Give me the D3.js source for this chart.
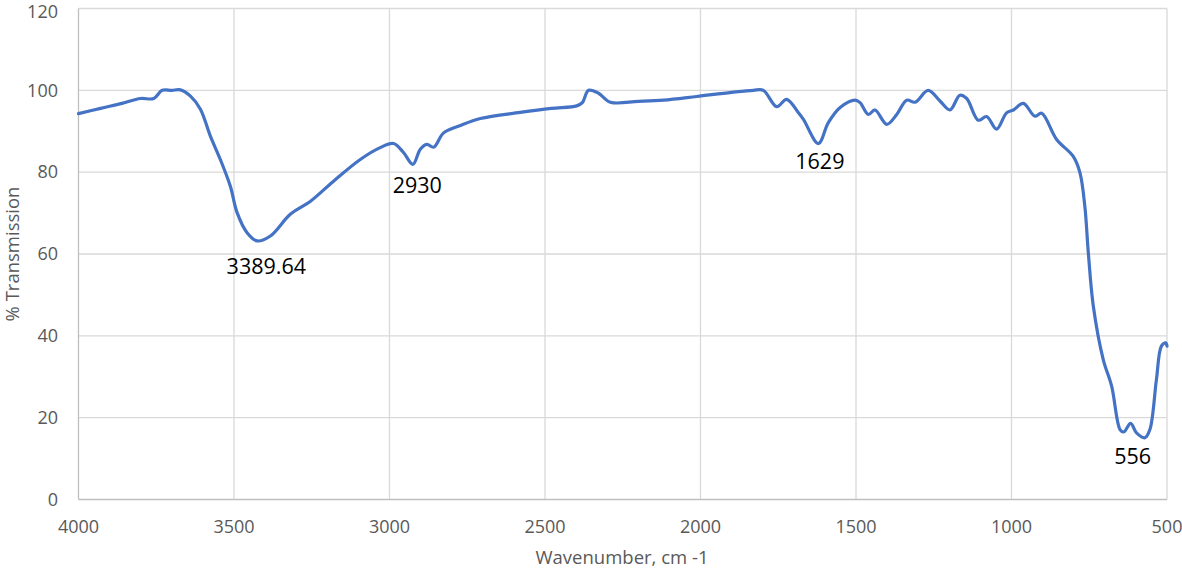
<!DOCTYPE html>
<meta charset="utf-8">
<script src="https://cdn.jsdelivr.net/npm/d3@7"></script>
<style>
  body { margin: 0; background: #fff; }
  text { font-family: "Open Sans", "Noto Sans", sans-serif; }
</style>
<div id="chart"></div>
<script>

// spectrum
var wavenumber = [4000, 3929, 3860, 3801, 3758, 3731, 3700, 3672, 3640, 3608, 3576, 3544, 3512, 3490, 3458, 3426, 3383, 3319, 3254, 3180, 3094, 3030, 2987, 2955, 2925, 2901, 2880, 2858, 2826, 2772, 2708, 2580, 2480, 2398, 2380, 2360, 2328, 2290, 2200, 2119, 2012, 1900, 1830, 1798, 1755, 1723, 1685, 1669, 1621, 1589, 1551, 1503, 1487, 1460, 1439, 1401, 1369, 1337, 1310, 1268, 1230, 1198, 1166, 1144, 1107, 1080, 1048, 1016, 994, 962, 925, 903, 855, 802, 780, 764, 753, 737, 705, 678, 651, 639, 617, 598, 571, 555, 534, 518, 504, 500];
var transmission = [94.3, 95.6, 96.8, 98.0, 98.0, 100.0, 100.0, 100.1, 98.6, 95.4, 88.8, 83.1, 76.6, 70.1, 65.2, 63.2, 64.4, 69.7, 72.9, 77.8, 83.1, 86.0, 87.0, 84.8, 81.9, 85.6, 86.8, 86.1, 89.6, 91.4, 93.1, 94.6, 95.6, 96.2, 97.0, 100.0, 99.3, 97.1, 97.3, 97.6, 98.5, 99.5, 100.0, 100.0, 96.0, 97.8, 94.5, 92.9, 87.0, 92.1, 95.8, 97.6, 97.0, 94.1, 95.2, 91.7, 94.1, 97.6, 97.1, 100.0, 97.4, 95.2, 98.8, 98.0, 92.7, 93.6, 90.5, 94.5, 95.2, 96.8, 93.7, 94.4, 88.0, 83.9, 79.9, 71.5, 60.3, 47.3, 34.2, 27.7, 17.1, 16.5, 18.6, 16.3, 15.1, 17.1, 29.3, 37.5, 38.3, 37.5];

var peakLabels = ["3389.64", "2930", "1629", "556"];
var peakX = [3389.64, 2930, 1629, 556];
var peakY = [63.2, 81.9, 87.0, 15.1];

var xTicks = [4000, 3500, 3000, 2500, 2000, 1500, 1000, 500];
var yTicks = [0, 20, 40, 60, 80, 100, 120];

var W = 1182, H = 571;
var margin = {top: 8, right: 15, bottom: 72, left: 78.5};

var svg = d3.select("#chart").append("svg")
  .attr("width", W).attr("height", H);

var x = d3.scaleLinear().domain([4000, 500]).range([margin.left, W - margin.right]);
var y = d3.scaleLinear().domain([0, 120]).range([H - margin.bottom + 0.5, margin.top + 0.5]);

// gridlines
svg.append("g").selectAll("line").data(yTicks.slice(1)).join("line")
  .attr("x1", margin.left).attr("x2", W - margin.right)
  .attr("y1", d => y(d)).attr("y2", d => y(d))
  .attr("stroke", "#d9d9d9").attr("stroke-width", 1.3);
svg.append("g").selectAll("line").data(xTicks.slice(1)).join("line")
  .attr("x1", d => x(d)).attr("x2", d => x(d))
  .attr("y1", y(0)).attr("y2", y(120))
  .attr("stroke", "#d9d9d9").attr("stroke-width", 1.3);

// axes lines
svg.append("line").attr("x1", x(4000)).attr("x2", x(4000)).attr("y1", y(0)).attr("y2", y(120))
  .attr("stroke", "#bfbfbf").attr("stroke-width", 1.3);
svg.append("line").attr("x1", x(4000)).attr("x2", x(500)).attr("y1", y(0)).attr("y2", y(0))
  .attr("stroke", "#bfbfbf").attr("stroke-width", 1.3);

// tick labels
svg.append("g").selectAll("text").data(yTicks).join("text")
  .attr("x", 58).attr("y", d => Math.max(y(d), 12)).attr("dy", "0.35em")
  .attr("text-anchor", "end").attr("font-size", 18).attr("fill", "#595959")
  .text(d => d);
svg.append("g").selectAll("text").data(xTicks).join("text")
  .attr("x", d => x(d)).attr("y", y(0) + 27).attr("dy", "0.35em")
  .attr("text-anchor", "middle").attr("font-size", 18).attr("fill", "#595959")
  .text(d => d);

// axis titles
svg.append("text").attr("x", 622).attr("y", 558).attr("dy", "0.35em")
  .attr("text-anchor", "middle").attr("font-size", 18.5).attr("fill", "#595959")
  .text("Wavenumber, cm -1");
svg.append("text").attr("transform", "translate(13," + y(60) + ") rotate(-90)")
  .attr("dy", "0.35em").attr("text-anchor", "middle").attr("font-size", 18.5).attr("fill", "#595959")
  .text("% Transmission");

// spectrum
var pts = wavenumber.map((w, i) => [w, transmission[i]]);
var line = d3.line().x(d => x(d[0])).y(d => y(d[1])).curve(d3.curveCatmullRom.alpha(0.5));
svg.append("path").datum(pts)
  .attr("d", line).attr("fill", "none")
  .attr("stroke", "#4472c4").attr("stroke-width", 3.2)
  .attr("stroke-linejoin", "round").attr("stroke-linecap", "round");

// peak labels
var offX = [-2, 6, 4, -17];
var offY = [26, 21, 18, 19];
svg.append("g").selectAll("text").data(peakLabels).join("text")
  .attr("x", (d, i) => x(peakX[i]) + offX[i])
  .attr("y", (d, i) => y(peakY[i]) + offY[i])
  .attr("dy", "0.35em").attr("text-anchor", "middle")
  .attr("font-size", 21.5).attr("fill", "#000")
  .text(d => d);

</script>
